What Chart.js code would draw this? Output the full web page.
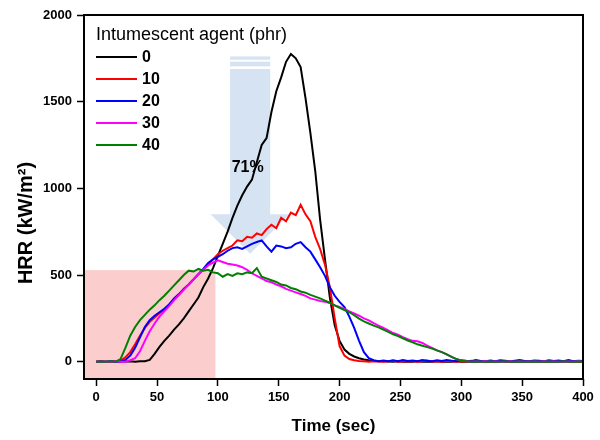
<!DOCTYPE html>
<html>
<head>
<meta charset="utf-8">
<script src="https://cdn.jsdelivr.net/npm/chart.js@4.4.1/dist/chart.umd.min.js"></script>
<style>
  html, body { margin: 0; padding: 0; background: #fff; }
  #hrrChart { display: block; }
</style>
</head>
<body>
<canvas id="hrrChart" width="600" height="440"></canvas>
<script>
// time (sec), one reading every 4 s
const times = [
    0, 4, 8, 12, 16, 20, 24, 28, 32, 36, 40,
    44, 48, 52, 56, 60, 64, 68, 72, 76, 80,
    84, 88, 92, 96, 100, 104, 108, 112, 116, 120,
    124, 128, 132, 136, 140, 144, 148, 152, 156, 160,
    164, 168, 172, 176, 180, 184, 188, 192, 196, 200,
    204, 208, 212, 216, 220, 224, 228, 232, 236, 240,
    244, 248, 252, 256, 260, 264, 268, 272, 276, 280,
    284, 288, 292, 296, 300, 304, 308, 312, 316, 320,
    324, 328, 332, 336, 340, 344, 348, 352, 356, 360,
    364, 368, 372, 376, 380, 384, 388, 392, 396, 400
];

// HRR (kW/m2) per intumescent agent loading
const hrr0 = [
    0, 1, 0, 2, 0, 3, 1, 2, 0, 3, 2,
    10, 45, 85, 120, 150, 185, 215, 250, 290, 330,
    370, 430, 480, 540, 610, 680, 750, 830, 900, 960,
    1010, 1050, 1150, 1250, 1290, 1440, 1560, 1640, 1730, 1775,
    1750, 1700, 1520, 1320, 1100, 820, 590, 370, 210, 120,
    70, 45, 30, 20, 12, 8, 5, 3, 2, 1,
    0, 2, 0, 1, 0, 3, 0, 1, 0, 2,
    0, 1, 0, 2, 0, 1, 0, 0, 2, 0,
    1, 0, 2, 0, 0, 1, 0, 2, 0, 1,
    0, 2, 0, 1, 0, 0, 2, 0, 1, 0
];
const hrr10 = [
    0, 2, 0, 1, 3, 5, 25, 55, 100, 150, 195,
    230, 255, 280, 300, 330, 360, 385, 420, 445, 475,
    505, 530, 560, 590, 620, 640, 655, 670, 700, 695,
    720, 715, 740, 730, 765, 790, 770, 830, 810, 860,
    845, 905, 850, 810, 720, 650, 560, 430, 250, 90,
    35, 15, 8, 4, 2, 0, 3, 1, 0, 2,
    5, 0, 3, 1, 4, 0, 2, 6, 1, 3,
    0, 4, 2, 0, 3, 1, 5, 0, 2, 1,
    3, 0, 2, 4, 1, 0, 3, 2, 0, 1,
    2, 0, 1, 3, 0, 2, 0, 1, 0, 2
];
const hrr20 = [
    0, 1, 0, 2, 0, 1, 10, 35, 80, 140, 200,
    240, 265, 285, 305, 330, 365, 390, 420, 445, 475,
    505, 535, 570, 590, 605, 620, 640, 655, 660, 650,
    665, 680, 690, 700, 665, 635, 670, 665, 655, 660,
    680, 690, 660, 635, 590, 545, 495, 430, 380, 345,
    315, 260, 195, 120, 55, 20, 8, 3, 6, 2,
    8, 3, 10, 4, 7, 2, 9, 5, 3, 8,
    4, 10, 6, 2, 8, 5, 3, 9, 4, 2,
    7, 3, 8, 5, 2, 6, 10, 4, 3, 7,
    5, 2, 8, 4, 6, 3, 9, 2, 5, 4
];
const hrr30 = [
    0, 0, 1, 0, 2, 0, 0, 8, 20, 60, 120,
    175, 220, 260, 290, 320, 355, 385, 415, 445, 475,
    505, 530, 555, 572, 585, 575, 565, 560, 555, 545,
    530, 510, 495, 480, 465, 458, 445, 435, 420, 410,
    400, 390, 380, 365, 358, 350, 345, 338, 325, 315,
    305, 290, 278, 265, 250, 238, 222, 208, 195, 180,
    165, 155, 142, 130, 120, 118, 108, 92, 80, 65,
    55, 42, 28, 15, 6, 2, 0, 1, 0, 2,
    0, 1, 0, 0, 2, 0, 1, 0, 0, 1,
    0, 2, 0, 1, 0, 0, 1, 0, 2, 0
];
const hrr40 = [
    0, 1, 0, 2, 0, 15, 80, 150, 200, 240, 270,
    300, 325, 355, 380, 410, 440, 470, 500, 525, 520,
    535, 525, 530, 515, 510, 490, 505, 495, 510, 505,
    515, 510, 540, 490, 480, 470, 460, 445, 440, 425,
    418, 405, 398, 385, 375, 365, 352, 340, 325, 310,
    298, 285, 268, 248, 232, 220, 208, 198, 185, 172,
    158, 148, 135, 122, 112, 100, 92, 84, 75, 65,
    55, 42, 28, 15, 6, 2, 0, 1, 0, 0,
    1, 0, 0, 2, 0, 0, 1, 0, 0, 1,
    0, 0, 1, 0, 0, 2, 0, 0, 1, 0
];

const seriesLabels = ['0', '10', '20', '30', '40'];
const seriesColors = ['#000000', '#ff0000', '#0000ff', '#ff00ff', '#008000'];
const xTicks = [0, 50, 100, 150, 200, 250, 300, 350, 400];
const yTicks = [0, 500, 1000, 1500, 2000];

const allSeries = [hrr0, hrr10, hrr20, hrr30, hrr40];

function toPoints(values) {
    return values.map((v, i) => ({ x: times[i], y: v }));
}

const datasets = allSeries.map((values, i) => ({
    label: seriesLabels[i],
    data: toPoints(values),
    borderColor: seriesColors[i],
    borderWidth: 2,
    pointRadius: 0,
    tension: 0,
    fill: false,
    order: allSeries.length - i // last one (40 phr) is drawn on top
}));

const FONT = '"Liberation Sans", Arial, sans-serif';

// shaded zone + reduction arrow, behind the curves
const backdrop = {
    id: 'backdrop',
    beforeDatasetsDraw(chart) {
        const ctx = chart.ctx;
        const xs = chart.scales.x, ys = chart.scales.y;
        const px = v => xs.getPixelForValue(v);
        const py = v => ys.getPixelForValue(v);
        const area = chart.chartArea;
        ctx.save();

        // pink region up to ~98 s
        ctx.fillStyle = 'rgb(252,205,205)';
        ctx.fillRect(area.left, py(528), px(98) - area.left, area.bottom - py(528));

        // arrow
        ctx.fillStyle = 'rgb(213,227,243)';
        ctx.beginPath();
        ctx.moveTo(px(110), py(1689));
        ctx.lineTo(px(143), py(1689));
        ctx.lineTo(px(143), py(850));
        ctx.lineTo(px(159), py(850));
        ctx.lineTo(px(126.5), py(622));
        ctx.lineTo(px(94), py(850));
        ctx.lineTo(px(110), py(850));
        ctx.closePath();
        ctx.fill();
        ctx.fillRect(px(110), py(1761), px(143) - px(110), py(1742) - py(1761));
        ctx.fillRect(px(110), py(1731), px(143) - px(110), py(1704) - py(1731));
        ctx.restore();
    }
};

// frame, legend, y title and label on top
const overlay = {
    id: 'overlay',
    afterDraw(chart) {
        const ctx = chart.ctx;
        const area = chart.chartArea;
        const xs = chart.scales.x, ys = chart.scales.y;
        ctx.save();
        ctx.strokeStyle = '#000';
        ctx.lineWidth = 2;
        ctx.strokeRect(area.left, area.top, area.right - area.left, area.bottom - area.top);

        ctx.fillStyle = '#000';
        ctx.textBaseline = 'middle';
        ctx.textAlign = 'left';
        ctx.font = '18px ' + FONT;
        ctx.fillText('Intumescent agent (phr)', 96, 35);

        ctx.font = 'bold 16px ' + FONT;
        seriesLabels.forEach((lab, i) => {
            const y = 57 + i * 22;
            ctx.strokeStyle = seriesColors[i];
            ctx.lineWidth = 2;
            ctx.beginPath();
            ctx.moveTo(96, y);
            ctx.lineTo(137, y);
            ctx.stroke();
            ctx.fillStyle = '#000';
            ctx.fillText(lab, 142, y + 1);
        });

        ctx.textAlign = 'center';
        ctx.fillText('71%', xs.getPixelForValue(124.5), ys.getPixelForValue(1120));

        // y axis title
        ctx.translate(26, 223);
        ctx.rotate(-Math.PI / 2);
        ctx.font = 'bold 20px ' + FONT;
        ctx.fillText('HRR (kW/m²)', 0, 0);
        ctx.restore();
    }
};

const tickFont = { family: FONT, size: 13, weight: 'bold' };
const titleFont = { family: FONT, size: 17, weight: 'bold' };

new Chart(document.getElementById('hrrChart'), {
    type: 'line',
    data: { datasets: datasets },
    options: {
        responsive: false,
        animation: false,
        layout: { padding: { left: 0, right: 17, top: 15, bottom: 0 } },
        plugins: {
            legend: { display: false },
            tooltip: { enabled: false }
        },
        scales: {
            x: {
                type: 'linear',
                min: -10,
                max: 400,
                afterBuildTicks: scale => { scale.ticks = xTicks.map(v => ({ value: v })); },
                afterFit: scale => { scale.height = 61; },
                ticks: { color: '#000', font: tickFont, padding: 4, maxRotation: 0, callback: v => String(v) },
                grid: { drawOnChartArea: false, drawTicks: true, tickLength: 7, tickColor: '#000', tickWidth: 1.5 },
                border: { display: false },
                title: { display: true, text: 'Time (sec)', color: '#000', font: titleFont, padding: { top: 0, bottom: 3 } }
            },
            y: {
                type: 'linear',
                min: -100,
                max: 2000,
                afterBuildTicks: scale => { scale.ticks = yTicks.map(v => ({ value: v })); },
                afterFit: scale => { scale.width = 84; },
                ticks: { color: '#000', font: tickFont, padding: 5, callback: v => String(v) },
                grid: { drawOnChartArea: false, drawTicks: true, tickLength: 7, tickColor: '#000', tickWidth: 1.5 },
                border: { display: false },
                title: { display: false }
            }
        }
    },
    plugins: [backdrop, overlay]
});
</script>
</body>
</html>
